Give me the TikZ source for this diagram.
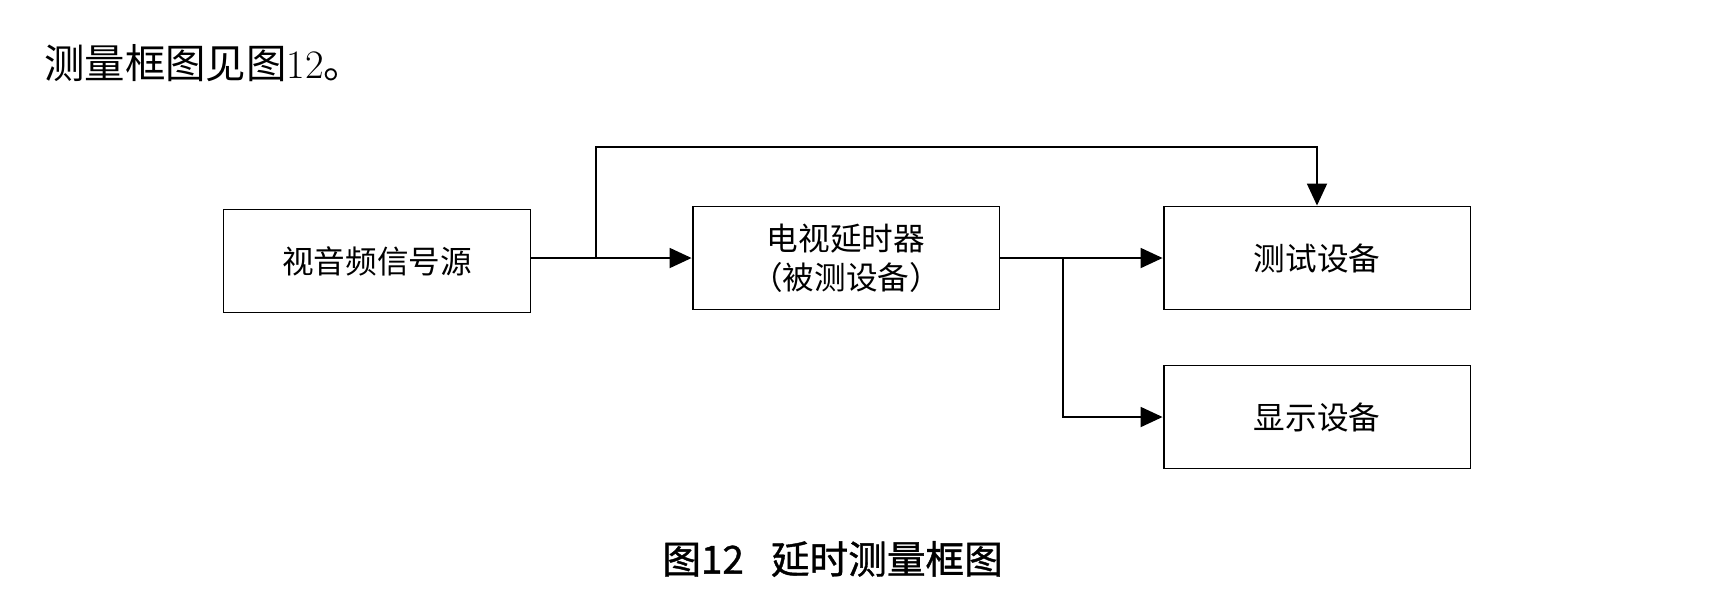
\documentclass[tikz,border=0pt]{standalone}
\usepackage{fontspec}
\newfontfamily\cjk{Noto Sans CJK SC}
\newfontfamily\cjkhei[FakeBold=1]{Noto Sans CJK SC}
\usetikzlibrary{arrows.meta}

\begin{document}
\begin{tikzpicture}[x=0.02cm, y=-0.02cm,
    box/.style={draw, line width=1.1pt, minimum width=6.14cm, minimum height=2.06cm,
                align=center, font=\cjk\fontsize{18}{22}\selectfont},
    arr/.style={line width=1.1pt, -{Triangle[length=0.44cm, width=0.4cm]}}]
    \useasboundingbox (0,0) rectangle (1728,603);

    % Heading line
    \node[anchor=west, inner sep=0pt] (head) at (44,63)
        {\fontsize{23}{26}\selectfont{\cjk 测量框图见图}12{\cjk 。}};

    % Boxes
    \node[box] (src)  at (377,261) {视音频信号源};
    \node[box] (dut)  at (846,258) {电视延时器\\（被测设备）};
    \node[box] (test) at (1317,258) {测试设备};
    \node[box] (disp) at (1317,417) {显示设备};

    % Branch points
    \coordinate (j1) at (596,258);
    \coordinate (j2) at (1063,258);
    \coordinate (top) at (1317,147);

    % Arrows
    \draw[arr] (src.east |- dut) -- (dut.west);
    \draw[arr] (j1) |- (top) -- (test.north);
    \draw[arr] (dut.east) -- (test.west);
    \draw[arr] (j2) |- (disp.west);

    % Caption
    \node[anchor=west, inner sep=0pt] (cap) at (662,559)
        {\cjkhei\fontsize{22}{26}\selectfont 图12\hspace{0.7em}延时测量框图};
\end{tikzpicture}
\end{document}
